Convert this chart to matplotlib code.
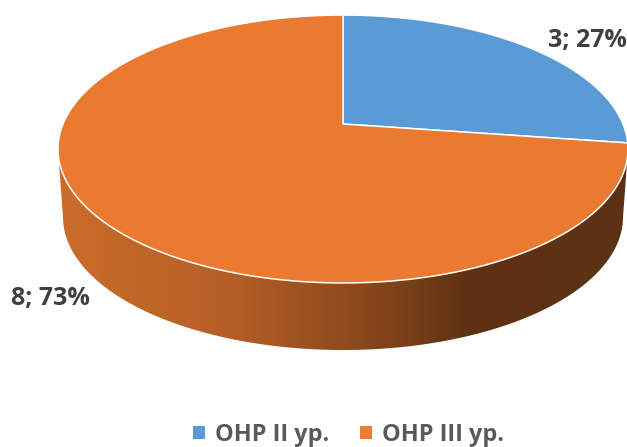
import numpy as np
import matplotlib
matplotlib.use("Agg")
import matplotlib.pyplot as plt
from matplotlib.patches import Polygon, Patch
from matplotlib.colors import LinearSegmentedColormap

categories = ["ОНР II ур.", "ОНР III ур."]
values = [3, 8]
point_labels = ["3; 27%", "8; 73%"]
colors = ["#5B9BD5", "#ED7D31"]
top_colors = ["#5B9BD5", "#E97A30"]

plt.rcParams['font.family'] = ['Open Sans', 'DejaVu Sans']
fig = plt.figure(figsize=(6.27, 4.47), dpi=100)

# hidden pie axes: wedge geometry comes from the library
aux = fig.add_axes([0, 0, 1, 1])
wedges, _ = aux.pie(values, startangle=90, counterclock=False, radius=1)
polys = []
s = np.linspace(0, 1, 25)
for w in wedges:
    p = w.get_patch_transform().transform_path(w.get_path())
    pts = []
    for curve, code in p.iter_bezier():
        if curve.degree == 0:
            continue
        pts.append(curve(s))
    polys.append(np.vstack(pts))
aux.remove()

ax = fig.add_axes([0, 0, 1, 1])
ax.set_xlim(0, 627)
ax.set_ylim(447, 0)
ax.axis("off")

# perspective projection of the unit disc onto the picture
CX, CY = 343.0, 124.0
C = 0.1866
A = 129.3
D = 280.0
def project(xy):
    x, y = xy[:, 0], xy[:, 1]
    w = 1 + C * y
    return np.column_stack((CX + D * x / w, CY - A * y / w))

t = np.linspace(0, 2 * np.pi, 1441)
rim = project(np.column_stack((np.cos(t), np.sin(t))))

# side wall: front of the rim, then the lower edge back
front = rim[rim[:, 1] >= 150]
front = front[np.argsort(front[:, 0])]
tb = np.linspace(0, np.pi, 361)
BX, BY, BRX, BRY = 343.0, 217.0, 280.0, 133.0
bottom = np.column_stack((BX + BRX * np.cos(tb), BY + BRY * np.sin(tb)))
side = np.vstack((front, bottom))
side_patch = Polygon(side, closed=True, fc="none", ec="none")
ax.add_patch(side_patch)

cmap = LinearSegmentedColormap.from_list("side", [
    (0.0, "#CB6C2A"), (0.30, "#B55F26"), (0.56, "#85451B"),
    (0.72, "#5F3213"), (1.0, "#5D3113")])
grad = np.linspace(0, 1, 570)[None, :]
im = ax.imshow(grad, cmap=cmap, extent=(58, 628, 360, 140), aspect="auto", zorder=1)
im.set_clip_path(side_patch)
ax.set_xlim(0, 627)
ax.set_ylim(447, 0)

# top face
for poly, col in zip(polys, top_colors):
    ax.add_patch(Polygon(project(poly), closed=True, fc=col, ec="white",
                         lw=1.1, joinstyle="round", zorder=2))

# data labels
ax.text(587, 41, point_labels[0], ha="center", va="center", fontsize=18,
        fontweight="bold", color="#404040", zorder=3)
ax.text(50, 299, point_labels[1], ha="center", va="center", fontsize=18,
        fontweight="bold", color="#404040", zorder=3)

# legend
handles = [Patch(fc=c, ec="none", label=l) for c, l in zip(colors, categories)]
ax.legend(handles=handles, ncol=2, loc="center", bbox_to_anchor=(348.5, 435),
          bbox_transform=ax.transData, frameon=False,
          prop={"size": 16.9, "weight": "bold"}, labelcolor="#595959",
          handlelength=0.5, handleheight=0.5, handletextpad=0.42,
          columnspacing=1.35, borderpad=0, borderaxespad=0)

fig.savefig("out.png", dpi=100)
